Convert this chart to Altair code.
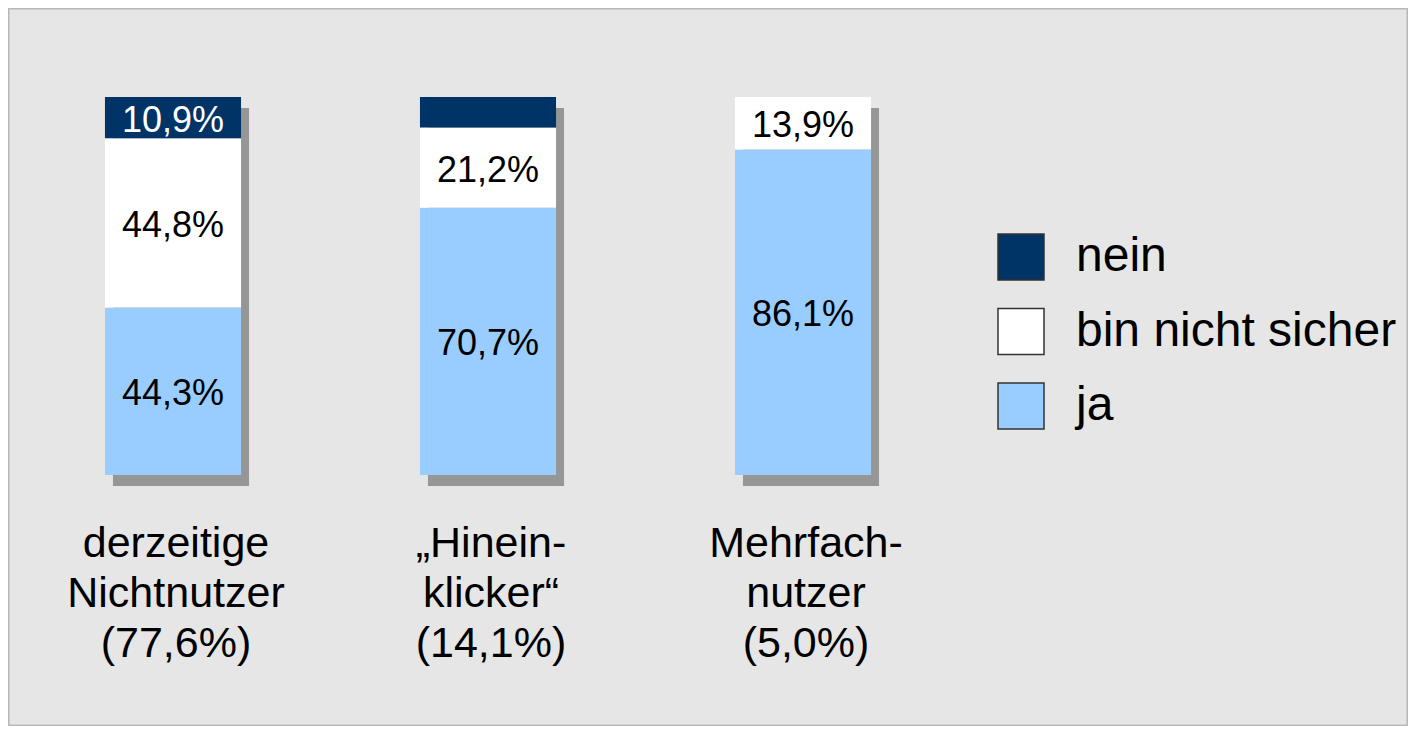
import altair as alt
import pandas as pd

categories = ["derzeitige Nichtnutzer", "Hineinklicker", "Mehrfachnutzer"]
category_labels = [
    "derzeitige\nNichtnutzer\n(77,6%)",
    "„Hinein-\nklicker“\n(14,1%)",
    "Mehrfach-\nnutzer\n(5,0%)",
]
answers = ["nein", "bin nicht sicher", "ja"]
ja = [44.3, 70.7, 86.1]
unsicher = [44.8, 21.2, 13.9]
nein = [10.9, 8.1, 0.0]
colors = ["#003366", "#ffffff", "#99ccff"]

rows = []
for i, c in enumerate(categories):
    for ans, vals, order in [("ja", ja, 0), ("bin nicht sicher", unsicher, 1), ("nein", nein, 2)]:
        v = vals[i]
        lbl = (f"{v:.1f}".replace(".", ",") + "%") if v >= 10 else ""
        rows.append({"cat": c, "answer": ans, "value": v, "order": order, "lbl": lbl})
df = pd.DataFrame(rows)
cats_df = pd.DataFrame({"cat": categories, "label": category_labels, "top": [100] * 3, "bottom": [0] * 3})

FONT = "Liberation Sans"
xscale = alt.Scale(domain=categories, range=[7.5, 952.5], paddingInner=0.568, paddingOuter=0.284)
yscale = alt.Scale(domain=[0, 100], range=[467, 89])

shadow = alt.Chart(cats_df).mark_bar(color="#969696", xOffset=8, yOffset=11, y2Offset=11).encode(
    x=alt.X("cat:N", scale=xscale, axis=None),
    y=alt.Y("top:Q", scale=yscale, axis=None),
    y2="bottom:Q",
)

bars = alt.Chart(df).mark_bar(strokeWidth=0).encode(
    x=alt.X("cat:N", scale=xscale, axis=None),
    y=alt.Y("value:Q", scale=yscale, axis=None, stack="zero"),
    color=alt.Color(
        "answer:N",
        scale=alt.Scale(domain=answers, range=colors),
        legend=alt.Legend(
            title=None,
            orient="none",
            legendX=989,
            legendY=225,
            symbolType="square",
            symbolSize=2116,
            symbolStrokeColor="#333333",
            symbolStrokeWidth=1.5,
            labelFontSize=48,
            labelFont=FONT,
            labelColor="#000000",
            labelOffset=31,
            labelLimit=0,
            rowPadding=22.5,
            padding=0,
        ),
    ),
    order=alt.Order("order:Q"),
)

texts = alt.Chart(df).transform_stack(
    stack="value", groupby=["cat"], as_=["y0", "y1"], sort=[alt.SortField("order")]
).transform_calculate(mid="(datum.y0 + datum.y1) / 2").mark_text(
    font=FONT, fontSize=36, baseline="middle", align="center", dy=3
).encode(
    x=alt.X("cat:N", scale=xscale, axis=None),
    y=alt.Y("mid:Q", scale=yscale, axis=None),
    text="lbl:N",
    color=alt.condition(alt.datum.answer == "nein", alt.value("#ffffff"), alt.value("#000000")),
)

cat_text = alt.Chart(cats_df).mark_text(
    font=FONT, fontSize=43, lineBreak="\n", lineHeight=50, baseline="alphabetic", align="center",
    color="#000000", dx=3
).encode(
    x=alt.X("cat:N", scale=xscale, axis=None),
    y=alt.value(549),
    text="label:N",
)

chart = alt.layer(shadow, bars, texts, cat_text).properties(
    width=1400,
    height=718,
    padding=0,
    autosize=alt.AutoSizeParams(type="none"),
    background="#e6e6e6",
).configure_view(
    stroke="#b8b8b8", strokeWidth=3, fill="#e6e6e6"
)

chart.save("out.html", embed_options={"renderer": "svg", "actions": False})
